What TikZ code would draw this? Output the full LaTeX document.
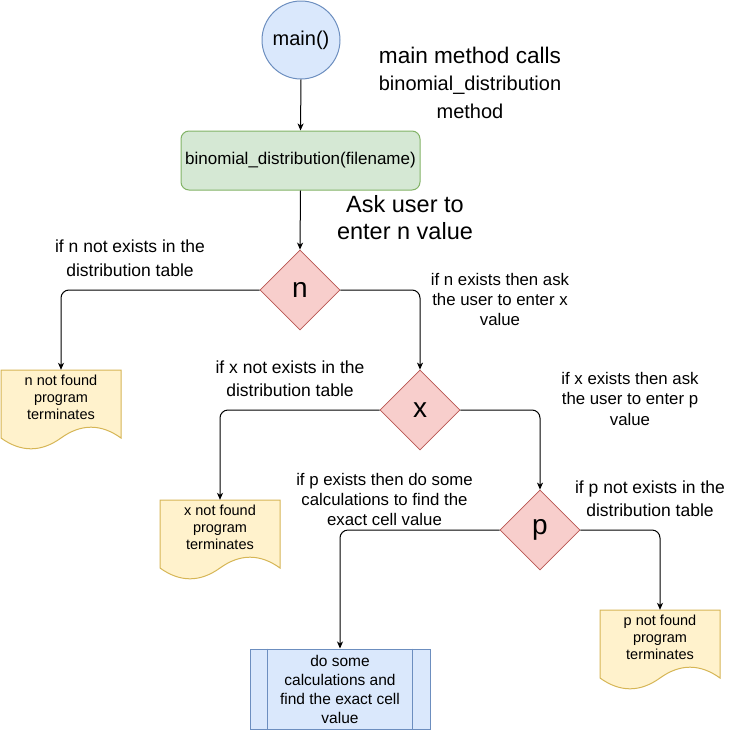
\documentclass[tikz,border=0pt]{standalone}
\usepackage{fontspec}
\setmainfont{Liberation Sans}
\usetikzlibrary{arrows.meta,calc,shapes.geometric}
\definecolor{bluefill}{HTML}{DAE8FC}
\definecolor{bluedraw}{HTML}{6C8EBF}
\definecolor{greenfill}{HTML}{D5E8D4}
\definecolor{greendraw}{HTML}{82B366}
\definecolor{redfill}{HTML}{F8CECC}
\definecolor{reddraw}{HTML}{B85450}
\definecolor{yellowfill}{HTML}{FFF2CC}
\definecolor{yellowdraw}{HTML}{D6B656}
\newcommand\fsz[2]{\fontsize{#1}{#2}\selectfont}
\newcommand\docshape[2]{%
  \begin{scope}[shift={(#1,#2)}]
    \filldraw[fill=yellowfill,draw=yellowdraw,line width=1pt]
      (0,0) -- (120,0) -- (120,68) .. controls (100,53.6) and (80,53.6) .. (60,68)
      .. controls (40,82.4) and (20,82.4) .. (0,68) -- cycle;
  \end{scope}}
\tikzset{
  conn/.style={draw=black,line width=1pt,rounded corners=8pt,-{Stealth[length=7pt,width=6pt,inset=2pt]}},
  decision/.style={diamond,aspect=1,minimum width=80pt,minimum height=80pt,inner sep=0pt,
    fill=redfill,draw=reddraw,line width=0.8pt,font=\fsz{28}{32}},
  doctext/.style={minimum width=120pt,minimum height=54pt,inner sep=0pt,align=center,font=\fsz{14.5}{17}},
  note/.style={align=center,inner sep=0pt},
}
\begin{document}
\begin{tikzpicture}[x=1pt,y=-1pt]
\useasboundingbox (0,0) rectangle (731,731);
% document backgrounds
\docshape{1}{370}
\docshape{160}{500}
\docshape{600}{610}
% nodes
\node[circle,minimum size=78pt,inner sep=0pt,fill=bluefill,draw=bluedraw,line width=1pt,font=\fsz{20}{24}] (main) at (301,40) {main()};
\node[rectangle,rounded corners=8pt,minimum width=239pt,minimum height=59pt,inner sep=0pt,fill=greenfill,draw=greendraw,line width=1pt,font=\fsz{17}{20}] (proc) at (300.5,160.5) {binomial\_distribution(filename)};
\node[decision] (n) at (300,290) {n};
\node[decision] (x) at (420,410) {x};
\node[decision] (p) at (540,530) {p};
\node[doctext] (ndoc) at (61,397) {n not found\\program\\terminates};
\node[doctext] (xdoc) at (220,527) {x not found\\program\\terminates};
\node[doctext] (pdoc) at (660,637) {p not found\\program\\terminates};
\node[rectangle,minimum width=180pt,minimum height=80pt,inner sep=0pt,fill=bluefill,draw=bluedraw,line width=1pt,align=center,font=\fsz{15.5}{19}] (calc) at (340,689) {do some\\calculations and\\find the exact cell\\value};
\draw[bluedraw,line width=1pt] ($(calc.north west)+(18,0)$) -- ($(calc.south west)+(18,0)$);
\draw[bluedraw,line width=1pt] ($(calc.north east)+(-18,0)$) -- ($(calc.south east)+(-18,0)$);
% notes
\node[note,font=\fsz{20}{27.5}] (t1) at (470,82.5) {{\fsz{22.6}{27.5}main method calls}\\binomial\_distribution\\method};
\node[note,font=\fsz{23.5}{27}] (t2) at (405,217.5) {Ask user to\\enter n value};
\node[note,font=\fsz{17.5}{24}] (t3) at (130,258) {if n not exists in the\\distribution table};
\node[note,font=\fsz{16.8}{20}] (t4) at (500,299) {if n exists then ask\\the user to enter x\\value};
\node[note,font=\fsz{17.5}{23.5}] (t5) at (290,378.5) {if x not exists in the\\distribution table};
\node[note,font=\fsz{16.8}{20.5}] (t6) at (630,398.5) {if x exists then ask\\the user to enter p\\value};
\node[note,font=\fsz{16.8}{20}] (t7) at (384.5,499) {if p exists then do some\\calculations to find the\\exact cell value};
\node[note,font=\fsz{17.5}{23.5}] (t8) at (650,498.5) {if p not exists in the\\distribution table};
% connectors
\draw[conn] (main.south) -- (proc.north);
\draw[conn] (proc.south) -- (n.north);
\draw[conn] (n.west) -| (ndoc.north);
\draw[conn] (n.east) -| (x.north);
\draw[conn] (x.west) -| (xdoc.north);
\draw[conn] (x.east) -| (p.north);
\draw[conn] (p.west) -| (calc.north);
\draw[conn] (p.east) -| (pdoc.north);
\end{tikzpicture}
\end{document}
